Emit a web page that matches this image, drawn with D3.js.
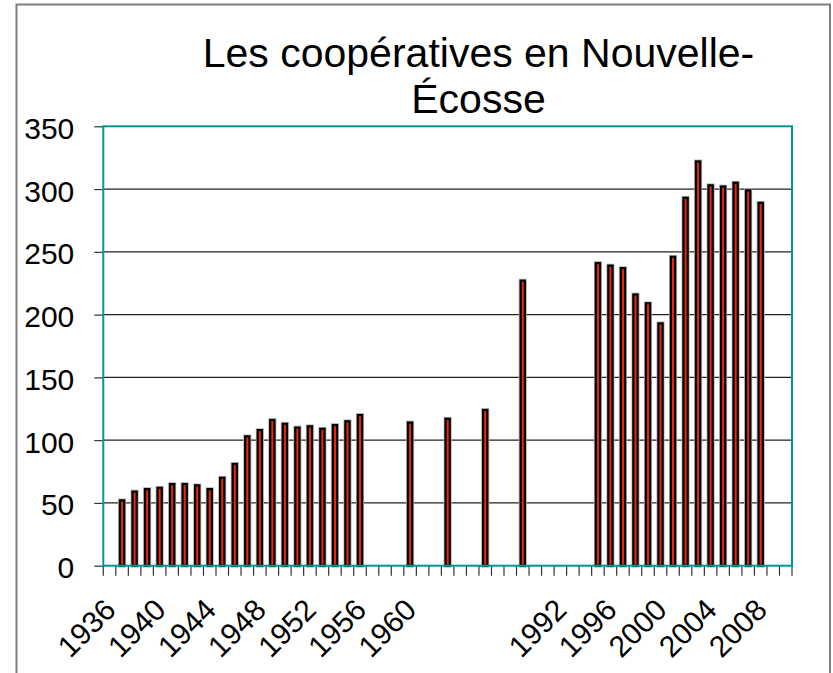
<!DOCTYPE html>
<html>
<head>
<meta charset="utf-8">
<script src="https://cdn.jsdelivr.net/npm/d3@7/dist/d3.min.js"></script>
<style>
  html, body { margin: 0; padding: 0; background: #ffffff; }
  svg { display: block; font-family: "Liberation Sans", Arial, sans-serif; }
</style>
</head>
<body>
<svg id="chart" width="833" height="673"></svg>
<script>
// ---- data ----
const titleLines = ["Les coopératives en Nouvelle-", "Écosse"];

const categories = [
  "1936", "1937", "1938", "1939", "1940", "1941", "1942", "1943", "1944", "1945",
  "1946", "1947", "1948", "1949", "1950", "1951", "1952", "1953", "1954", "1955",
  "1956", "1957", "1958", "1959", "1960", "", "", "", "", "",
  "", "", "", "", "", "", "1992", "1993", "1994", "1995",
  "1996", "1997", "1998", "1999", "2000", "2001", "2002", "2003", "2004", "2005",
  "2006", "2007", "2008", "2009", "2010"
];

const values = [
  null, 52, 59, 61, 62, 65, 65, 64, 61, 70,
  81, 103, 108, 116, 113, 110, 111, 109, 112, 115,
  120, null, null, null, 114, null, null, 117, null, null,
  124, null, null, 227, null, null, null, null, null, 241,
  239, 237, 216, 209, 193, 246, 293, 322, 303, 302,
  305, 299, 289, null, null
];

const yTicks = [0, 50, 100, 150, 200, 250, 300, 350];
const labelEvery = 4;

// ---- layout ----
const svg = d3.select("#chart");
const plot = { left: 103.3, right: 792, top: 126.3, bottom: 565.7 };

const x = d3.scaleBand()
  .domain(d3.range(categories.length))
  .range([plot.left, plot.right])
  .padding(0);

const y = d3.scaleLinear()
  .domain([0, 350])
  .range([plot.bottom, plot.top]);

// outer frame
svg.append("rect")
  .attr("x", 16.5).attr("y", 4.5)
  .attr("width", 813.5).attr("height", 720)
  .attr("fill", "none")
  .attr("stroke", "#7f7f7f")
  .attr("stroke-width", 2);

// title
svg.append("text")
  .attr("text-anchor", "middle")
  .attr("font-size", 41)
  .attr("fill", "#000")
  .selectAll("tspan")
  .data(titleLines)
  .join("tspan")
  .attr("x", 478.5)
  .attr("y", (d, i) => 66.7 + i * 46.6)
  .text(d => d);

// gridlines
svg.append("g")
  .selectAll("line")
  .data(yTicks.filter(v => v > 0 && v < 350))
  .join("line")
  .attr("x1", plot.left).attr("x2", plot.right)
  .attr("y1", d => y(d)).attr("y2", d => y(d))
  .attr("stroke", "#222")
  .attr("stroke-width", 1.2);

// y axis
const yAxis = svg.append("g")
  .attr("transform", `translate(${plot.left},0)`)
  .call(d3.axisLeft(y).tickValues(yTicks).tickSize(9).tickPadding(20).tickFormat(d3.format("d")));
yAxis.select(".domain").remove();
yAxis.selectAll(".tick line").attr("stroke", "#333").attr("stroke-width", 1.2);
yAxis.selectAll(".tick text")
  .attr("font-size", 30)
  .attr("font-family", "Liberation Sans, Arial, sans-serif")
  .attr("fill", "#000")
  .attr("dy", null)
  .attr("y", 12);

// bars
const barData = values.map((v, i) => ({ i, v })).filter(d => d.v !== null);
const bw = x.bandwidth() * 0.34;

svg.append("g")
  .selectAll("rect")
  .data(barData)
  .join("rect")
  .attr("x", d => x(d.i) + x.bandwidth() / 2 - bw / 2)
  .attr("y", d => y(d.v))
  .attr("width", bw)
  .attr("height", d => y(0) - y(d.v))
  .attr("fill", "none")
  .attr("stroke", "#b0b0b0")
  .attr("stroke-width", 3.8);

svg.append("g")
  .selectAll("rect")
  .data(barData)
  .join("rect")
  .attr("x", d => x(d.i) + x.bandwidth() / 2 - bw / 2)
  .attr("y", d => y(d.v))
  .attr("width", bw)
  .attr("height", d => y(0) - y(d.v))
  .attr("fill", "#e8280a")
  .attr("stroke", "#000")
  .attr("stroke-width", 2.2);

// x axis tick marks at category boundaries
const boundaries = d3.range(categories.length + 1).map(i =>
  i < categories.length ? x(i) : plot.right);
svg.append("g")
  .selectAll("line")
  .data(boundaries)
  .join("line")
  .attr("x1", d => d).attr("x2", d => d)
  .attr("y1", plot.bottom).attr("y2", plot.bottom + 10)
  .attr("stroke", "#333")
  .attr("stroke-width", 1.2);

// x axis labels (every 4th category)
const labelIdx = d3.range(categories.length).filter(i => i % labelEvery === 0 && categories[i] !== "");
const xAxis = svg.append("g")
  .attr("transform", `translate(0,${plot.bottom})`)
  .call(d3.axisBottom(x).tickValues(labelIdx).tickSize(0).tickFormat(i => categories[i]));
xAxis.select(".domain").remove();
xAxis.selectAll(".tick text")
  .attr("font-size", 30)
  .attr("font-family", "Liberation Sans, Arial, sans-serif")
  .attr("fill", "#000")
  .attr("text-anchor", "end")
  .attr("dy", null)
  .attr("y", 0)
  .attr("transform", "translate(8,46) rotate(-45)");

// plot area border
svg.append("rect")
  .attr("x", plot.left).attr("y", plot.top)
  .attr("width", plot.right - plot.left)
  .attr("height", plot.bottom - plot.top)
  .attr("fill", "none")
  .attr("stroke", "#009696")
  .attr("stroke-width", 2);
</script>
</body>
</html>
